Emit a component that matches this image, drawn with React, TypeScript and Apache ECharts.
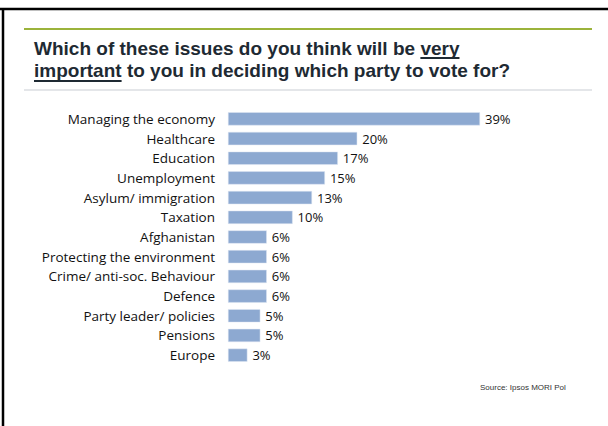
import React, { useEffect, useRef } from "react";
import * as echarts from "echarts";

const categories: string[] = [
  "Managing the economy",
  "Healthcare",
  "Education",
  "Unemployment",
  "Asylum/ immigration",
  "Taxation",
  "Afghanistan",
  "Protecting the environment",
  "Crime/ anti-soc. Behaviour",
  "Defence",
  "Party leader/ policies",
  "Pensions",
  "Europe",
];
const values: number[] = [39, 20, 17, 15, 13, 10, 6, 6, 6, 6, 5, 5, 3];

const titleLine1Pre = "Which of these issues do you think will be ";
const titleLine1U = "very";
const titleLine2U = "important";
const titleLine2Post = " to you in deciding which party to vote for?";
const sourceText = "Source: Ipsos MORI Pol";

const TITLE_SIZE = 19;
const TITLE_FAMILY = '"Liberation Sans", Arial, sans-serif';
const TITLE_FONT = `bold ${TITLE_SIZE}px ${TITLE_FAMILY}`;
const LABEL_FAMILY = '"Open Sans", Lato, sans-serif';

function measure(text: string, font: string): number {
  const c = document.createElement("canvas");
  const ctx = c.getContext("2d");
  if (!ctx) return text.length * 9;
  ctx.font = font;
  return ctx.measureText(text).width;
}

export default function App() {
  const ref = useRef<HTMLDivElement>(null);
  useEffect(() => {
    if (!ref.current) return;
    const chart = echarts.init(ref.current, undefined, { renderer: "svg" });
    const tx = 34;
    const l1y = 38.5;
    const l2y = 60.5;
    const preW = measure(titleLine1Pre, TITLE_FONT);
    const veryW = measure(titleLine1U, TITLE_FONT);
    const impW = measure(titleLine2U, TITLE_FONT);
    const titleColor = "#1e2a33";
    const titleFontStyle = {
      fontFamily: TITLE_FAMILY,
      fontWeight: "bold" as const,
      fontSize: TITLE_SIZE,
      fill: titleColor,
      verticalAlign: "top" as const,
    };
    chart.setOption({
      animation: false,
      backgroundColor: "#ffffff",
      grid: { left: 228, top: 109, width: 252, height: 256, containLabel: false },
      xAxis: {
        type: "value",
        min: 0,
        max: 39,
        show: false,
      },
      yAxis: {
        type: "category",
        data: categories,
        inverse: true,
        axisLine: { show: false },
        axisTick: { show: false },
        splitLine: { show: false },
        axisLabel: {
          margin: 13,
          fontFamily: LABEL_FAMILY,
          fontSize: 13.5,
          color: "#111111",
        },
      },
      series: [
        {
          type: "bar",
          data: values,
          barCategoryGap: "33%",
          itemStyle: { color: "#8da9d1", borderColor: "#dfe7f2", borderWidth: 0.5 },
          label: {
            show: true,
            position: "right",
            distance: 5,
            formatter: "{c}%",
            fontFamily: LABEL_FAMILY,
            fontSize: 13,
            color: "#111111",
          },
        },
      ],
      graphic: [
        { type: "line", shape: { x1: 0, y1: 9, x2: 608, y2: 9 }, style: { stroke: "#000", lineWidth: 2.5 } },
        { type: "line", shape: { x1: 3, y1: 8, x2: 3, y2: 426 }, style: { stroke: "#000", lineWidth: 2.5 } },
        { type: "line", shape: { x1: 24, y1: 29, x2: 592, y2: 29 }, style: { stroke: "#9bb33b", lineWidth: 2 } },
        { type: "line", shape: { x1: 24, y1: 90, x2: 592, y2: 90 }, style: { stroke: "#c9ced3", lineWidth: 1.2 } },
        {
          type: "text",
          x: tx,
          y: l1y,
          style: { ...titleFontStyle, text: titleLine1Pre + titleLine1U },
        },
        {
          type: "text",
          x: tx,
          y: l2y,
          style: { ...titleFontStyle, text: titleLine2U + titleLine2Post },
        },
        { type: "line", shape: { x1: tx + preW, y1: 58, x2: tx + preW + veryW, y2: 58 }, style: { stroke: titleColor, lineWidth: 2 } },
        { type: "line", shape: { x1: tx, y1: 81, x2: tx + impW, y2: 81 }, style: { stroke: titleColor, lineWidth: 2 } },
        {
          type: "text",
          x: 480,
          y: 387,
          style: { text: sourceText, fontFamily: TITLE_FAMILY, fontSize: 8, fill: "#333333", verticalAlign: "middle" },
        },
      ],
    });
    return () => chart.dispose();
  }, []);
  return (
    <div
      ref={ref}
      style={{ position: "fixed", left: 0, top: 0, width: 608, height: 426, background: "#fff" }}
    />
  );
}
